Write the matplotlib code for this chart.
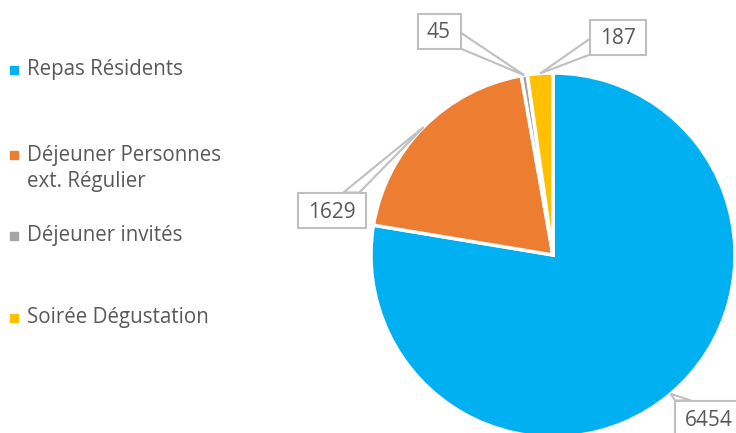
import matplotlib.pyplot as plt
import matplotlib.transforms as mtransforms
import numpy as np

categories = ['Repas Résidents', 'Déjeuner Personnes\next. Régulier', 'Déjeuner invités', 'Soirée Dégustation']
values = [6454, 1629, 45, 187]
colors = ['#00B0F0', '#ED7D31', '#A5A5A5', '#FFC000']

plt.rcParams['font.family'] = ['Open Sans', 'DejaVu Sans']

fig = plt.figure(figsize=(7.36, 4.33), dpi=100)
W, H = 736, 433
px = mtransforms.IdentityTransform()  # display pixels, origin bottom-left

# pie axes: centre ~ (553, 255) px from top-left, radius ~182 px
cx, cy, r = 553, 255, 182
ax = fig.add_axes([(cx - r) / W, (H - cy - r) / H, 2 * r / W, 2 * r / H])
wedges, _ = ax.pie(values, colors=colors, startangle=90, counterclock=False,
                   wedgeprops=dict(edgecolor='white', linewidth=2.5))
ax.set_xlim(-1, 1)
ax.set_ylim(-1, 1)
ax.set_aspect('equal')
ax.axis('off')

# data callouts: box centre in pixels from top-left
box_pos = [(709, 418), (332, 210), (439, 31), (618, 37)]
box_h = 35
total = float(sum(values))
start = 90.0
for v, (bx, by) in zip(values, box_pos):
    ang = start - v / total * 360 / 2
    start -= v / total * 360
    # tip on the pie edge, in pixels (origin bottom-left)
    tx = cx + r * np.cos(np.radians(ang))
    ty = (H - cy) + r * np.sin(np.radians(ang))
    bw = 18 + 12.5 * len(str(v))
    bxc, byc = bx, H - by
    hw, hh = bw / 2, box_h / 2
    dx, dy = tx - bxc, ty - byc
    half = 8
    if abs(dx) / hw > abs(dy) / hh:
        ex = bxc + np.sign(dx) * hw
        ey = byc + dy * hw / abs(dx)
        ey = np.clip(ey, byc - hh + half, byc + hh - half)
        base = [(ex, ey - half), (ex, ey + half)]
    else:
        ey = byc + np.sign(dy) * hh
        ex = bxc + dx * hh / abs(dy)
        ex = np.clip(ex, bxc - hw + half, bxc + hw - half)
        base = [(ex - half, ey), (ex + half, ey)]
    leader = plt.Polygon([base[0], (tx, ty), base[1]], closed=True, fc='white',
                         ec='#BFBFBF', lw=1.5, transform=px, zorder=5)
    fig.patches.append(leader)
    box = plt.Rectangle((bxc - hw, byc - hh), bw, box_h, fc='white', ec='#BFBFBF',
                        lw=1.5, transform=px, zorder=6)
    fig.patches.append(box)
    fig.text(bxc / W, (byc - 2) / H, str(v), fontsize=15, color='#595959',
             ha='center', va='center', zorder=7)

# legend drawn by hand
leg_y = [70, 155, 236, 318]
for lab, col, y in zip(categories, colors, leg_y):
    fig.patches.append(plt.Rectangle((10 / W, (H - y - 4) / H), 8 / W, 8 / H,
                                     transform=fig.transFigure, color=col))
    n = lab.count('\n')
    fig.text(27 / W, (H - y - n * 27 / 2) / H, lab, fontsize=14.8, color='#595959',
             ha='left', va='center', linespacing=1.3)

fig.savefig('out.png', dpi=100)
